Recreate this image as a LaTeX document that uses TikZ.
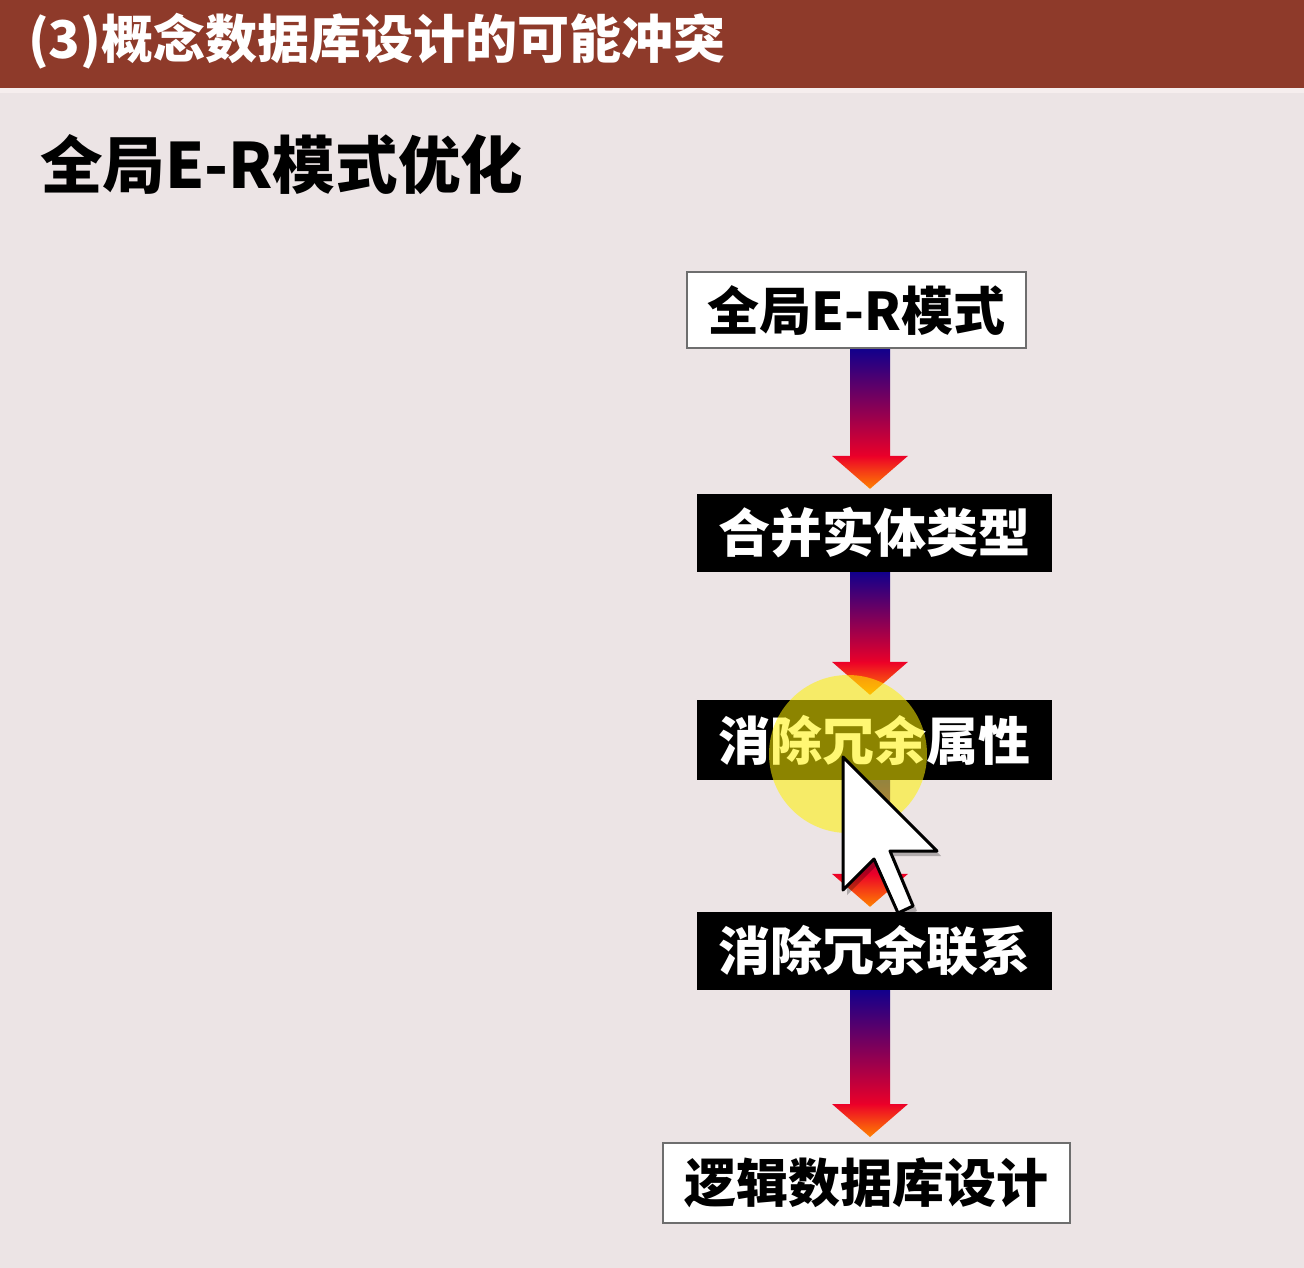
\documentclass[tikz,border=0pt]{standalone}
\usepackage{fontspec}
\setmainfont{Noto Sans CJK SC}
\usetikzlibrary{calc}
\newdimen\pxu \pxu=0.05cm
\definecolor{bg}{RGB}{236,228,229}
\definecolor{hdr}{RGB}{142,58,42}
\definecolor{strip}{RGB}{246,238,238}
\definecolor{navy}{RGB}{18,0,140}
\definecolor{magenta1}{RGB}{140,0,160}
\definecolor{hred}{RGB}{236,0,40}
\definecolor{horange}{RGB}{255,130,0}
\definecolor{boxgray}{RGB}{110,110,110}
\newcommand\flowarr[2]{%
  \shade[top color=navy, middle color=magenta1, bottom color=hred]
    ($(#1.south -| ax)+(-20,0)$) rectangle ($(#2.north -| ax)+(20,-37)$);
  \shade[top color=hred, middle color=hred, bottom color=horange]
    ($(#2.north -| ax)+(-38,-38)$) -- ($(#2.north -| ax)+(38,-38)$) -- ($(#2.north -| ax)+(0,-5)$) -- cycle;
}
\begin{document}
\begin{tikzpicture}[x=0.05cm,y=-0.05cm,
  boxtext/.style={font=\bfseries\fontsize{74}{80}\selectfont, inner sep=0pt, align=center},
  wbox/.style={boxtext, fill=white, draw=boxgray, line width=2\pxu, text=black},
  bbox/.style={boxtext, fill=black, text=white},
]
\useasboundingbox[fill=bg] (0,0) rectangle (1304,1268);
\fill[hdr] (0,0) rectangle (1304,88);
\fill[strip] (0,88) rectangle (1304,93);
\node[anchor=west, text=white, font=\bfseries\fontsize{74}{80}\selectfont, inner sep=0pt] (title) at (28,41) {(3)概念数据库设计的可能冲突};
\node[anchor=west, text=black, font=\bfseries\fontsize{89}{94}\selectfont, inner sep=0pt] (sub) at (40,165) {全局E-R模式优化};

\coordinate (ax) at (870,0);
\node[wbox, minimum width=339\pxu, minimum height=76\pxu] (b1) at (856.5,310) {全局E-R模式};
\node[bbox, minimum width=355\pxu, minimum height=78\pxu] (b2) at (874.5,533) {合并实体类型};
\node[bbox, minimum width=355\pxu, minimum height=80\pxu] (b3) at (874.5,740) {消除冗余属性};
\node[bbox, minimum width=355\pxu, minimum height=78\pxu] (b4) at (874.5,951) {消除冗余联系};
\node[wbox, minimum width=407\pxu, minimum height=80\pxu] (b5) at (866.5,1183) {逻辑数据库设计};

\flowarr{b1}{b2}
\flowarr{b2}{b3}
\flowarr{b3}{b4}
\flowarr{b4}{b5}

% cursor highlight
\fill[yellow, opacity=0.55] (848,754) circle (79);
\fill[black, opacity=0.25] (847,762) -- (847,895) -- (878,864) -- (902,918) -- (917,911) -- (894,856) -- (941,856) -- cycle;
\filldraw[fill=white, draw=black, line width=3\pxu, line join=round]
  (843,757) -- (843,890) -- (874,859) -- (898,913) -- (913,906) -- (890,851) -- (937,851) -- cycle;
\end{tikzpicture}
\end{document}
